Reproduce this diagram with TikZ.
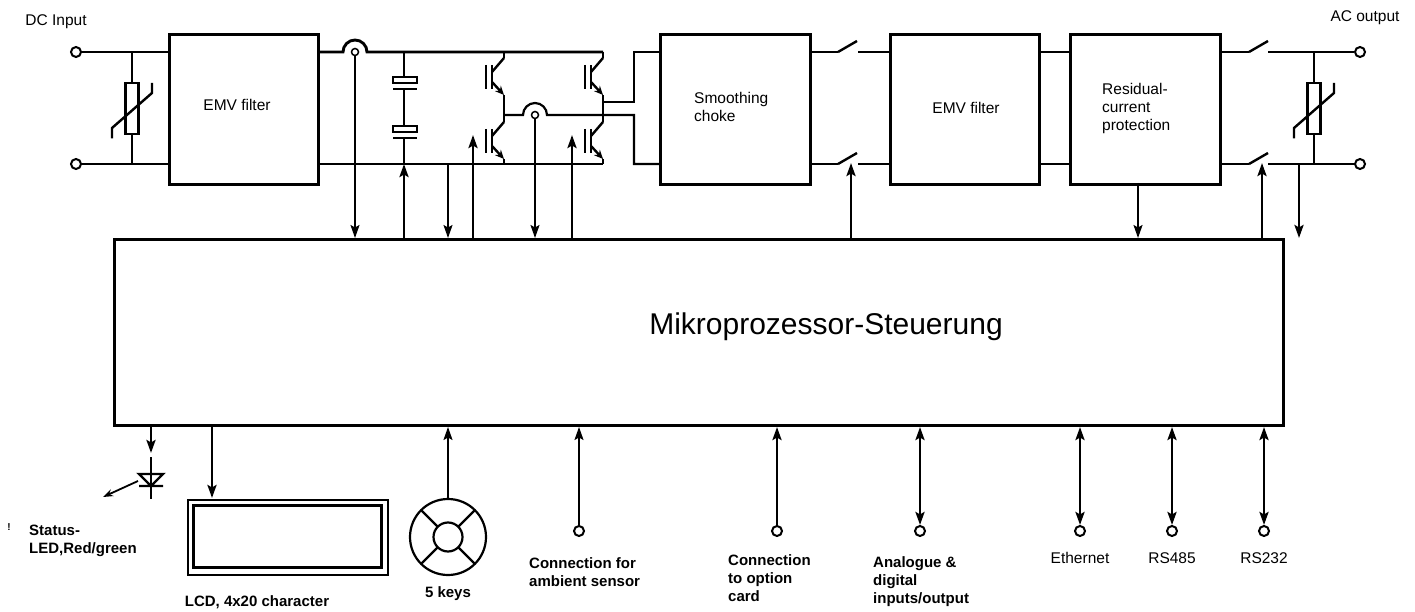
\documentclass[tikz,border=0pt]{standalone}
\usepackage{fontspec}
\setmainfont{Liberation Sans}
\usetikzlibrary{arrows.meta}
\begin{document}
\begin{tikzpicture}[x=1pt,y=-1pt,
  box/.style={draw, line width=3pt, inner sep=0pt, anchor=north west},
  wire/.style={line width=2.9pt},
  midw/.style={line width=2.2pt},
  thinw/.style={line width=1.8pt},
  arr/.style={-{Stealth[length=13pt,width=9pt,inset=2.5pt]}},
  darr/.style={{Stealth[length=13pt,width=9pt,inset=2.5pt]}-{Stealth[length=13pt,width=9pt,inset=2.5pt]}},
  lbl/.style={font=\fontsize{15.5}{18}\selectfont, inner sep=0pt},
  blbl/.style={font=\fontsize{15}{18}\selectfont\bfseries, inner sep=0pt, align=left},
  term/.style={circle, draw, line width=2pt, minimum size=10pt, inner sep=0pt, fill=white},
  sens/.style={circle, draw, line width=1.5pt, minimum size=7pt, inner sep=0pt, fill=white},
  varistor/.pic={
    \draw[line width=2.4pt] (-6.5,-25.5) rectangle (6.5,25.5);
    \draw[line width=2.4pt] (-20,30) -- (-20,19.5) -- (20,-15.5) -- (20,-25.5);},
  igbt/.pic={
    \draw[line width=2.6pt] (-18,-12) -- (-18,12) (-12,-12) -- (-12,12);
    \draw[line width=2.4pt] (-12,-5) -- (0,-19);
    \draw[line width=2.4pt,-{Stealth[length=9pt,width=8pt,inset=3pt]}] (-12,5) -- (0,18);},
  sw/.pic={\draw[line width=2.4pt] (0,0) -- (19,-11);}
]
\useasboundingbox (0,0) rectangle (1415,612);

% ---------- boxes ----------
\node[box, minimum width=149pt, minimum height=150pt] (emv1) at (168,33) {};
\node[box, minimum width=150pt, minimum height=150pt] (choke) at (659,33) {};
\node[box, minimum width=149pt, minimum height=150pt] (emv2) at (889,33) {};
\node[box, minimum width=150pt, minimum height=150pt] (rcd) at (1069,33) {};
\node[box, minimum width=1169pt, minimum height=186pt] (mcu) at (113,238) {};

\coordinate (yT) at (0,52);
\coordinate (yB) at (0,164);

% ---------- DC input ----------
\node[term] (dcp) at (76,52) {};
\node[term] (dcn) at (76,164) {};
\draw[wire] (dcp) -- (emv1.west |- yT);
\draw[wire] (dcn) -- (emv1.west |- yB);
\draw[midw] (132,52) -- (132,83) (132,134) -- (132,164);
\pic at (132,108.5) {varistor};

% ---------- DC link and bridge ----------
\draw[wire] (emv1.east |- yT) -- (343,52) arc[start angle=180,end angle=0,radius=12pt] -- (603,52);
\draw[wire] (emv1.east |- yB) -- (603,164);
\node[sens] (s1) at (355,52) {};
% capacitors
\draw[wire] (404,52) -- (404,77) (404,89) -- (404,126) (404,138) -- (404,164);
\draw[line width=2.6pt] (393,77) rectangle (417,83) (393,89) -- (417,89);
\draw[line width=2.6pt] (393,126) rectangle (417,132) (393,138) -- (417,138);
% IGBTs
\pic at (504,77) {igbt};
\pic at (504,141) {igbt};
\pic at (603,77) {igbt};
\pic at (603,141) {igbt};
\draw[wire] (504,52) -- (504,58) (504,95) -- (504,122) (504,159) -- (504,164);
\draw[wire] (603,52) -- (603,58) (603,95) -- (603,122) (603,159) -- (603,164);
\draw[midw] (504,115) -- (523,115) arc[start angle=180,end angle=0,radius=12pt] -- (634,115) -- (634,164) -- (choke.west |- yB);
\draw[wire] (603,102) -- (634,102) -- (634,52) -- (choke.west |- yT);
\draw[wire] (634,115) -- (634,164) -- (choke.west |- yB);
\node[sens] (s2) at (535,115) {};

% ---------- switches to EMV filter 2 ----------
\draw[wire] (choke.east |- yT) -- (838,52) (858,52) -- (emv2.west |- yT);
\draw[wire] (choke.east |- yB) -- (838,164) (858,164) -- (emv2.west |- yB);
\pic at (838,52) {sw};
\pic at (838,164) {sw};
\draw[wire] (emv2.east |- yT) -- (rcd.west |- yT);
\draw[wire] (emv2.east |- yB) -- (rcd.west |- yB);

% ---------- output side ----------
\node[term] (acp) at (1360,52) {};
\node[term] (acn) at (1360,164) {};
\draw[wire] (rcd.east |- yT) -- (1249,52) (1268,52) -- (acp);
\draw[wire] (rcd.east |- yB) -- (1249,164) (1268,164) -- (acn);
\pic at (1249,52) {sw};
\pic at (1249,164) {sw};
\draw[midw] (1314,52) -- (1314,83) (1314,134) -- (1314,164);
\pic at (1314,108.5) {varistor};

% ---------- control arrows (top) ----------
\draw[thinw,arr] (s1) -- (s1 |- mcu.north);
\draw[wire,arr] (404,238) -- (404,164);
\draw[thinw,arr] (448,164) -- (448,238);
\draw[wire,arr] (473,238) -- (473,135);
\draw[thinw,arr] (s2) -- (s2 |- mcu.north);
\draw[wire,arr] (572,238) -- (572,135);
\draw[wire,arr] (851,238) -- (851,163);
\draw[thinw,arr] (1138,183) -- (1138,238);
\draw[wire,arr] (1262,238) -- (1262,163);
\draw[wire,arr] (1299,164) -- (1299,238);

% ---------- bottom ----------
% status LED
\draw[wire,arr] (151,424) -- (151,453);
\draw[wire] (151,457) -- (151,499);
\draw[line width=2.4pt] (139,474) -- (163,474) -- (151,486) -- cycle (139,486) -- (163,486);
\draw[thinw,-{Stealth[length=10pt,width=7pt]}] (138,481) -- (103,497);
% LCD
\node[draw, line width=2pt, minimum width=200pt, minimum height=75pt, inner sep=0pt, anchor=north west] (lcd) at (187,499) {};
\draw[line width=3pt] (193,505) rectangle (381,567);
\draw[wire,arr] (212,424) -- (212,498);
% keys
\node[circle, draw, line width=2.2pt, minimum size=76pt, inner sep=0pt] (keys) at (448,537) {};
\node[circle, draw, line width=2.2pt, minimum size=29pt, inner sep=0pt] (keyc) at (448,537) {};
\foreach \a in {45,135,225,315} \draw[line width=2.2pt] (keys.center) ++(\a:14.5pt) -- ++(\a:23.5pt);
\draw[thinw,arr] (keys.north) -- (keys.north |- mcu.south);
% connectors
\node[term] (amb) at (579,531) {};
\node[term] (opt) at (777,531) {};
\node[term] (ana) at (920,531) {};
\node[term] (eth) at (1080,531) {};
\node[term] (r485) at (1172,531) {};
\node[term] (r232) at (1264,531) {};
\draw[thinw,arr] (amb) -- (amb |- mcu.south);
\draw[wire,arr] (opt) -- (opt |- mcu.south);
\draw[wire,darr] (ana) -- (ana |- mcu.south);
\draw[wire,darr] (eth) -- (eth |- mcu.south);
\draw[wire,darr] (r485) -- (r485 |- mcu.south);
\draw[wire,darr] (r232) -- (r232 |- mcu.south);

% ---------- labels ----------
\node[lbl] (tdc) at (56,22) {DC Input};
\node[lbl] (tac) at (1365,18) {AC output};
\node[lbl] (temv1) at (237,105) {EMV filter};
\node[lbl] (temv2) at (966,108) {EMV filter};
\node[lbl, align=left, anchor=west] (tchoke) at (694,107) {Smoothing\\choke};
\node[lbl, align=left, anchor=west] (trcd) at (1102,108) {Residual-\\current\\protection};
\node[font=\fontsize{30}{36}\selectfont, inner sep=0pt] (tmcu) at (826,327) {Mikroprozessor-Steuerung};
\node[font=\fontsize{10}{10}\selectfont\bfseries, inner sep=0pt] (tdot) at (9,527) {!};
\node[blbl, anchor=west] (tled) at (29,541) {Status-\\LED,Red/green};
\node[blbl] (tlcd) at (257,602) {LCD, 4x20 character};
\node[blbl] (tkeys) at (448,594) {5 keys};
\node[blbl, anchor=west] (tamb) at (529,572) {Connection for\\ambient sensor};
\node[blbl, anchor=west] (topt) at (728,578) {Connection\\to option\\card};
\node[blbl, anchor=west] (tana) at (873,582) {Analogue \&\\digital\\inputs/output};
\node[lbl] (teth) at (1080,558) {Ethernet};
\node[lbl] (t485) at (1172,558) {RS485};
\node[lbl] (t232) at (1264,558) {RS232};
\end{tikzpicture}
\end{document}
